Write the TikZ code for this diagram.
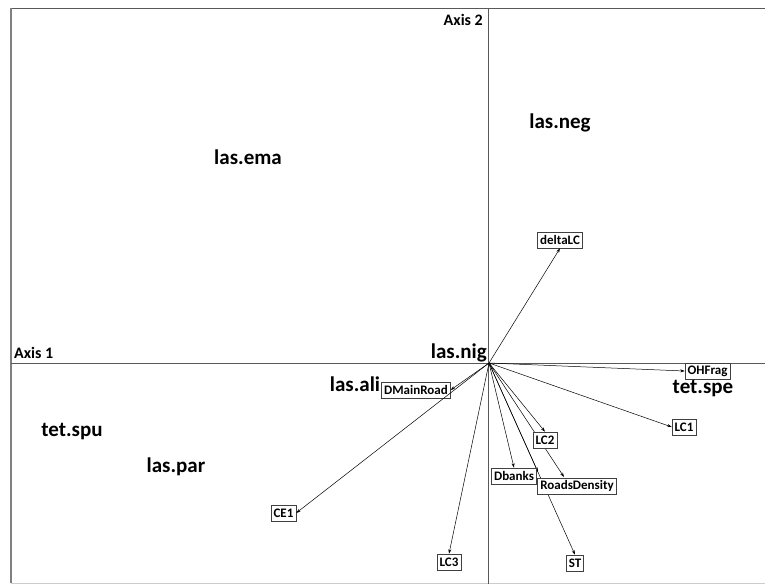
\documentclass[tikz,border=0pt]{standalone}
\usepackage{fontspec}
\setmainfont{Carlito}
\usetikzlibrary{arrows.meta}
\tikzset{
  varbox/.style={draw=black!75, line width=0.6pt, fill=white, inner xsep=2.5pt, inner ysep=1pt, minimum height=16pt, font=\fontsize{13}{14}\selectfont\bfseries},
  vec/.style={draw=black, line width=0.5pt, -{Stealth[length=4.5pt,width=3pt]}},
  spec/.style={font=\fontsize{21}{23}\selectfont\bfseries, inner sep=0pt},
  axlab/.style={font=\fontsize{16}{18}\selectfont\bfseries, inner sep=0pt},
  axis/.style={draw=black!65, line width=0.9pt}
}
\begin{document}
\begin{tikzpicture}[x=1pt,y=-1pt]
\useasboundingbox (0,0) rectangle (765,584);
% frame
\coordinate (tl) at (11,8);
\coordinate (tr) at (765,8);
\coordinate (bl) at (11,583);
\coordinate (br) at (765,583);
\draw[draw=black!65, line width=1pt] (tr) -- (tl);
\draw[draw=black!50, line width=1.2pt] (tl) -- (bl);
\draw[draw=black!20, line width=1pt] (bl) -- (br);
% axes
\coordinate (ax2t) at (488,8);
\coordinate (ax2b) at (488,584);
\coordinate (ax1l) at (11,363);
\coordinate (ax1r) at (765,363);
\draw[axis] (ax2t) -- (ax2b);
\draw[axis] (ax1l) -- (ax1r);
\coordinate (o) at (489,363);
% boxes
\node[varbox] (deltaLC) at (560,240) {deltaLC};
\node[varbox] (OHFrag) at (707.5,371) {OHFrag};
\node[varbox] (LC1) at (684,427) {LC1};
\node[varbox] (DMainRoad) at (416,390) {DMainRoad};
\node[varbox] (CE1) at (283.5,513) {CE1};
\node[varbox] (LC3) at (449,562) {LC3};
\node[varbox] (LC2) at (545,440) {LC2};
\node[varbox] (Dbanks) at (514,476) {Dbanks};
\node[varbox] (RoadsDensity) at (577,486) {RoadsDensity};
\node[varbox] (ST) at (575,563) {ST};
\coordinate (hid) at (538,472);
\coordinate (rd) at (564,477);
% vectors
\path[vec] (o) -- (deltaLC.south);
\path[vec] (o) -- (OHFrag.west);
\path[vec] (o) -- (LC1.west);
\path[vec] (o) -- (DMainRoad.east);
\path[vec] (o) -- (CE1.east);
\path[vec] (o) -- (LC3.north);
\path[vec] (o) -- (Dbanks.north);
\path[vec] (o) -- (hid);
\path[vec] (o) -- (rd);
\path[vec] (o) -- (ST.north);
% redraw boxes over lines passing beneath
\node[varbox] at (LC2) {LC2};
\node[varbox] at (RoadsDensity) {RoadsDensity};
\node[varbox] at (Dbanks) {Dbanks};
\path[vec] (o) -- (LC2.north);
% species labels
\node[spec] (lasneg) at (560,123) {las.neg};
\node[spec] (lasema) at (248,157) {las.ema};
\node[spec, anchor=base east] (lasnig) at (487,358) {las.nig};
\node[spec] (lasali) at (355,384) {las.ali};
\node[spec] (tetspu) at (72,432) {tet.spu};
\node[spec] (laspar) at (176,467) {las.par};
\node[spec] (tetspe) at (703,389) {tet.spe};
% axis labels
\node[axlab, anchor=base east] (ax2lab) at (483,25) {Axis 2};
\node[axlab, anchor=base west] (ax1lab) at (14,358) {Axis 1};
\end{tikzpicture}
\end{document}
